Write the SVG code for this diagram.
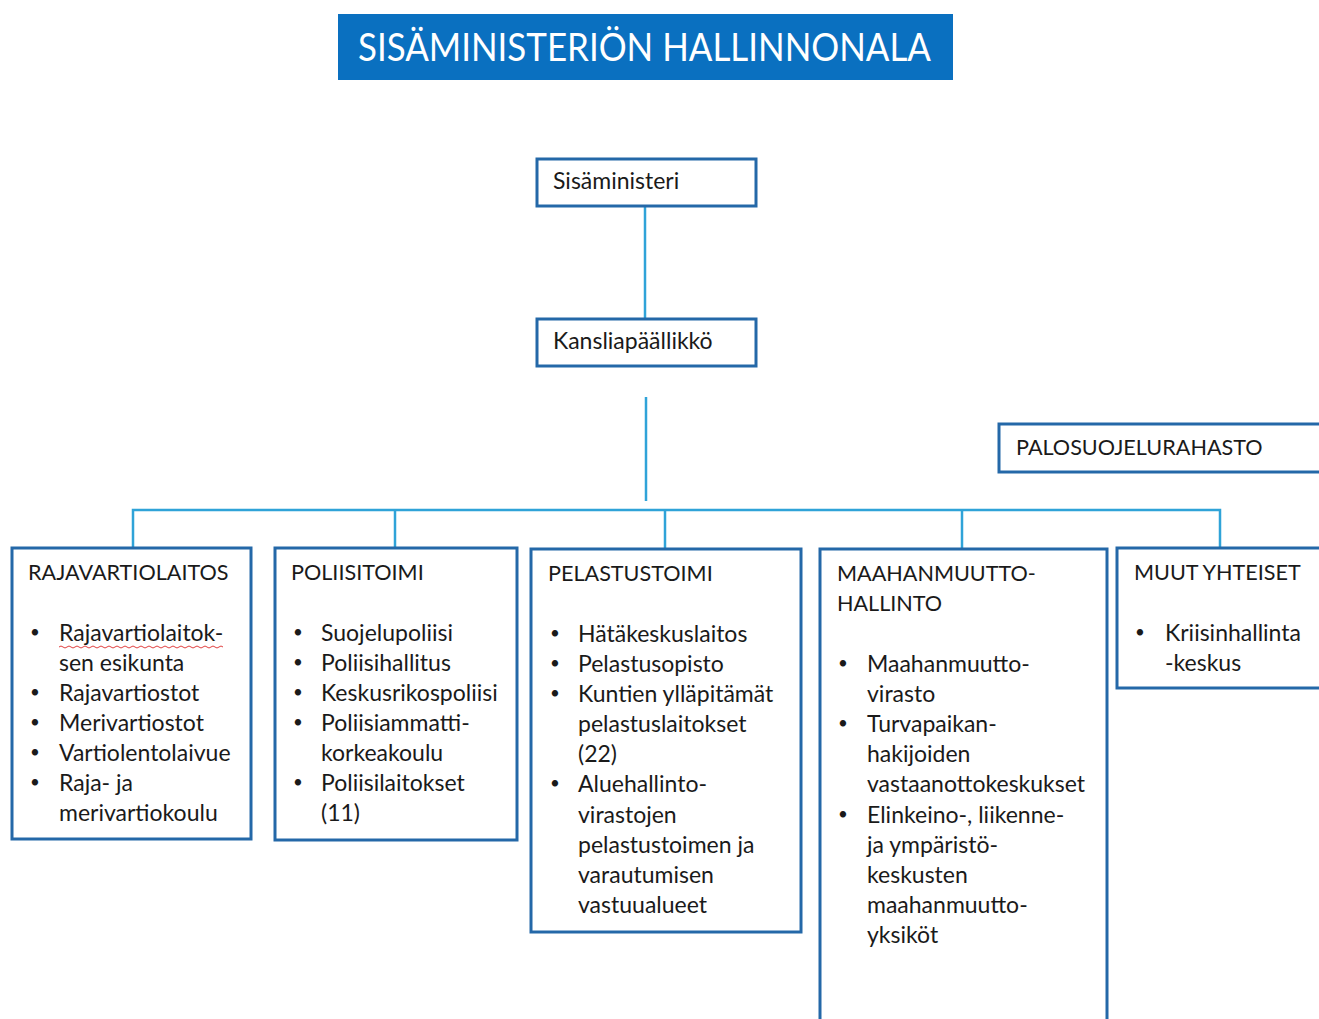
<svg xmlns="http://www.w3.org/2000/svg" width="1319" height="1019" viewBox="0 0 1319 1019">
<style>
  .box { fill: #ffffff; stroke: #2468A8; stroke-width: 3; }
  .t { font-family: Lato, "Open Sans", "Liberation Sans", sans-serif; font-size: 23px; fill: #1a1a1a; }
  .c { font-family: Lato, "Open Sans", "Liberation Sans", sans-serif; font-size: 21.6px; fill: #1a1a1a; }
  .b { font-family: Lato, "Open Sans", "Liberation Sans", sans-serif; font-size: 17px; fill: #1a1a1a; }
  .title { font-family: Lato, "Open Sans", "Liberation Sans", sans-serif; font-size: 38px; fill: #ffffff; }
  .conn { stroke: #2FA3D8; stroke-width: 2.5; fill: none; }
</style>
<rect width="1319" height="1019" fill="#ffffff"/>

<g id="title">
  <rect x="338" y="14" width="615" height="66" fill="#0A70C0"/>
  <text class="title" x="358" y="61" textLength="573" lengthAdjust="spacingAndGlyphs">SISÄMINISTERIÖN HALLINNONALA</text>
</g>

<g id="connectors">
  <line class="conn" x1="645" y1="206" x2="645" y2="319"/>
  <line class="conn" x1="646" y1="397" x2="646" y2="501"/>
  <polyline class="conn" points="133,548 133,510 1220,510 1220,548"/>
  <line class="conn" x1="395" y1="510" x2="395" y2="548"/>
  <line class="conn" x1="665" y1="510" x2="665" y2="549"/>
  <line class="conn" x1="962" y1="510" x2="962" y2="549"/>
</g>

<g id="sisaministeri">
  <rect class="box" x="537" y="159" width="219" height="47"/>
  <text class="t" x="553" y="189">Sisäministeri</text>
</g>

<g id="kansliapaallikko">
  <rect class="box" x="537" y="319" width="219" height="47"/>
  <text class="t" x="553" y="349">Kansliapäällikkö</text>
</g>

<g id="palosuojelurahasto">
  <rect class="box" x="999" y="424" width="340" height="48"/>
  <text class="c" x="1016" y="455">PALOSUOJELURAHASTO</text>
</g>

<g id="rajavartiolaitos">
  <rect class="box" x="12" y="548" width="239" height="291"/>
  <text class="c" x="28" y="580">RAJAVARTIOLAITOS</text>
  <text class="b" x="30" y="638">•</text>
  <text class="t" x="59" y="641">Rajavartiolaitok-</text>
  <path d="M59,647 q2,-2 4,0 t4,0 t4,0 t4,0 t4,0 t4,0 t4,0 t4,0 t4,0 t4,0 t4,0 t4,0 t4,0 t4,0 t4,0 t4,0 t4,0 t4,0 t4,0 t4,0 t4,0 t4,0 t4,0 t4,0 t4,0 t4,0 t4,0 t4,0 t4,0 t4,0 t4,0 t4,0 t4,0 t4,0 t4,0 t4,0 t4,0 t4,0 t4,0 t4,0 t4,0" fill="none" stroke="#E04040" stroke-width="1"/>
  <text class="t" x="59" y="671">sen esikunta</text>
  <text class="b" x="30" y="698">•</text>
  <text class="t" x="59" y="701">Rajavartiostot</text>
  <text class="b" x="30" y="728">•</text>
  <text class="t" x="59" y="731">Merivartiostot</text>
  <text class="b" x="30" y="758">•</text>
  <text class="t" x="59" y="761">Vartiolentolaivue</text>
  <text class="b" x="30" y="788">•</text>
  <text class="t" x="59" y="791">Raja- ja</text>
  <text class="t" x="59" y="821">merivartiokoulu</text>
</g>

<g id="poliisitoimi">
  <rect class="box" x="275" y="548" width="242" height="292"/>
  <text class="c" x="291" y="580">POLIISITOIMI</text>
  <text class="b" x="293" y="638">•</text>
  <text class="t" x="321" y="641">Suojelupoliisi</text>
  <text class="b" x="293" y="668">•</text>
  <text class="t" x="321" y="671">Poliisihallitus</text>
  <text class="b" x="293" y="698">•</text>
  <text class="t" x="321" y="701">Keskusrikospoliisi</text>
  <text class="b" x="293" y="728">•</text>
  <text class="t" x="321" y="731">Poliisiammatti-</text>
  <text class="t" x="321" y="761">korkeakoulu</text>
  <text class="b" x="293" y="788">•</text>
  <text class="t" x="321" y="791">Poliisilaitokset</text>
  <text class="t" x="321" y="821">(11)</text>
</g>

<g id="pelastustoimi">
  <rect class="box" x="531" y="549" width="270" height="383"/>
  <text class="c" x="548" y="581">PELASTUSTOIMI</text>
  <text class="b" x="550" y="639">•</text>
  <text class="t" x="578" y="642">Hätäkeskuslaitos</text>
  <text class="b" x="550" y="669">•</text>
  <text class="t" x="578" y="672">Pelastusopisto</text>
  <text class="b" x="550" y="699">•</text>
  <text class="t" x="578" y="702">Kuntien ylläpitämät</text>
  <text class="t" x="578" y="732">pelastuslaitokset</text>
  <text class="t" x="578" y="762">(22)</text>
  <text class="b" x="550" y="789">•</text>
  <text class="t" x="578" y="792">Aluehallinto-</text>
  <text class="t" x="578" y="823">virastojen</text>
  <text class="t" x="578" y="853">pelastustoimen ja</text>
  <text class="t" x="578" y="883">varautumisen</text>
  <text class="t" x="578" y="913">vastuualueet</text>
</g>

<g id="maahanmuuttohallinto">
  <rect class="box" x="820" y="549" width="287" height="490"/>
  <text class="c" x="837" y="581">MAAHANMUUTTO-</text>
  <text class="c" x="837" y="611">HALLINTO</text>
  <text class="b" x="838" y="669">•</text>
  <text class="t" x="867" y="672">Maahanmuutto-</text>
  <text class="t" x="867" y="702">virasto</text>
  <text class="b" x="838" y="729">•</text>
  <text class="t" x="867" y="732">Turvapaikan-</text>
  <text class="t" x="867" y="762">hakijoiden</text>
  <text class="t" x="867" y="792">vastaanottokeskukset</text>
  <text class="b" x="838" y="820">•</text>
  <text class="t" x="867" y="823">Elinkeino-, liikenne-</text>
  <text class="t" x="867" y="853">ja ympäristö-</text>
  <text class="t" x="867" y="883">keskusten</text>
  <text class="t" x="867" y="913">maahanmuutto-</text>
  <text class="t" x="867" y="943">yksiköt</text>
</g>

<g id="muutyhteiset">
  <rect class="box" x="1117" y="548" width="220" height="140"/>
  <text class="c" x="1134" y="580">MUUT YHTEISET</text>
  <text class="b" x="1135" y="638">•</text>
  <text class="t" x="1165" y="641">Kriisinhallinta</text>
  <text class="t" x="1165" y="671">-keskus</text>
</g>
</svg>
